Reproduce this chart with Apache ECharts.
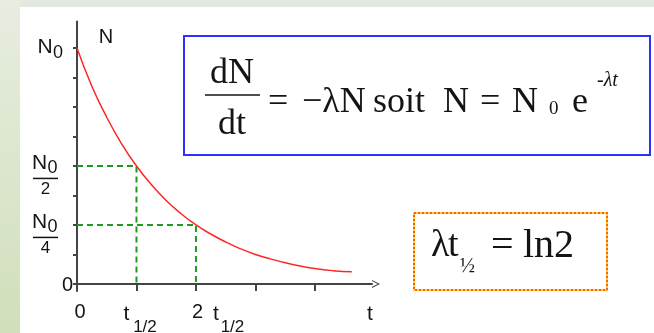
<!DOCTYPE html>
<html>
<head>
<meta charset="utf-8">
<script src="https://cdn.jsdelivr.net/npm/echarts@6/dist/echarts.min.js"></script>
<style>
html,body{margin:0;padding:0;background:#e3e9de;}
#main{width:654px;height:333px;}
</style>
</head>
<body>
<div id="main"></div>
<script>
// 衰减曲线 (横轴单位 t1/2, 纵轴单位 N0/8)
var curveT = [0, 0.25, 0.5, 0.75, 1, 1.25, 1.5, 1.75, 2, 2.25, 2.5, 2.75, 3, 3.25, 3.5, 3.75, 4, 4.3, 4.62];
var curveN = [8, 6.7, 5.65, 4.75, 4, 3.37, 2.83, 2.38, 2, 1.69, 1.42, 1.19, 1.0, 0.85, 0.72, 0.61, 0.52, 0.45, 0.41];
// 半衰期虚线 t1/2, 2t1/2
var halfT = [1, 2];
var halfN = [4, 2];
// 刻度
var xTicks = [0, 1, 2, 3, 4];
var yTicks = [0, 1, 2, 3, 4, 5, 6, 7, 8];
var xMax = 4.96;
var yMax = 8.9;
var yMin = -0.24;

var sans = '"Liberation Sans", Arial, sans-serif';
var serif = '"Liberation Serif", "Times New Roman", serif';
var axisColor = '#444';

var curveData = [];
for (var i = 0; i < curveT.length; i++) {
	curveData.push([curveT[i], curveN[i]]);
}

var series = [{
	type: 'line',
	data: curveData,
	smooth: true,
	symbol: 'none',
	lineStyle: { color: '#ff2626', width: 1.5 },
	z: 3
}];
for (var k = 0; k < halfT.length; k++) {
	series.push({
		type: 'line',
		data: [[0, halfN[k]], [halfT[k], halfN[k]], [halfT[k], 0]],
		symbol: 'none',
		lineStyle: { color: '#1f9a1f', width: 2, type: [6, 4] },
		z: 2
	});
}

var option = {
	backgroundColor: '#e3e9de',
	animation: false,
	grid: { left: 77, right: 654 - 372, top: 21.4, bottom: 42 },
	xAxis: {
		type: 'value',
		min: 0,
		max: xMax,
		axisLine: {
			onZero: true,
			lineStyle: { color: axisColor, width: 2 },
			symbol: ['none', 'path://M0,10 L5,0 L10,10 L8.6,10 L5,2.8 L1.4,10 Z'],
			symbolSize: [9, 8],
			symbolOffset: [0, 4]
		},
		axisTick: { customValues: xTicks, length: 7, lineStyle: { color: axisColor, width: 2 } },
		axisLabel: { show: false },
		splitLine: { show: false }
	},
	yAxis: {
		type: 'value',
		min: yMin,
		max: yMax,
		axisLine: { show: true, lineStyle: { color: axisColor, width: 2 } },
		axisTick: { customValues: yTicks, length: 4, lineStyle: { color: axisColor, width: 2 } },
		axisLabel: { show: false },
		splitLine: { show: false }
	},
	series: series
};

var chart = echarts.init(document.getElementById('main'));
chart.setOption(option);

function px(x, y) {
	return chart.convertToPixel({ gridIndex: 0 }, [x, y]);
}
function txt(x, y, s, size, family, align, italic) {
	return {
		type: 'text', x: x, y: y, z: 50,
		style: {
			text: s, fontSize: size, fontFamily: family, fill: '#141414',
			fontStyle: italic ? 'italic' : 'normal',
			align: align || 'center', verticalAlign: 'middle',
			textAlign: align || 'center', textVerticalAlign: 'middle'
		}
	};
}
function seg(x1, y1, x2, y2, w) {
	return { type: 'line', z: 50, shape: { x1: x1, y1: y1, x2: x2, y2: y2 }, style: { stroke: '#141414', lineWidth: w } };
}

var g = [];
// 背景
g.push({ type: 'rect', z: -10, silent: true, shape: { x: 0, y: 0, width: 20, height: 333 },
	style: { fill: new echarts.graphic.LinearGradient(0, 0, 0, 1, [{ offset: 0, color: '#e7ede0' }, { offset: 1, color: '#d1dfba' }]) } });
g.push({ type: 'rect', z: -10, silent: true, shape: { x: 20, y: 7, width: 634, height: 326 }, style: { fill: '#ffffff' } });

// 纵轴标签
var p = px(0, 8);
g.push(txt(p[0] - 32, p[1] - 1, 'N', 21, sans));
g.push(txt(p[0] - 19, p[1] + 5.5, '0', 18, sans));
var fracVal = [4, 2];
var fracDen = ['2', '4'];
for (var f = 0; f < fracVal.length; f++) {
	p = px(0, fracVal[f]);
	g.push(txt(p[0] - 37.5, p[1] - 2.5, 'N', 21, sans));
	g.push(txt(p[0] - 24.5, p[1] + 2.5, '0', 18, sans));
	g.push(seg(p[0] - 44, p[1] + 12.5, p[0] - 19, p[1] + 12.5, 1.5));
	g.push(txt(p[0] - 31.5, p[1] + 23.5, fracDen[f], 17, sans));
}
p = px(0, 0);
g.push(txt(p[0] - 9.5, p[1] + 2, '0', 20, sans));
p = px(0, yMax);
g.push(txt(p[0] + 29, p[1] + 16, 'N', 20, sans));

// 横轴标签
p = px(0, 0);
g.push(txt(p[0] + 3, p[1] + 29, '0', 20, sans));
p = px(1, 0);
g.push(txt(p[0] - 10, p[1] + 30, 't', 21, sans));
g.push(txt(p[0] + 8.5, p[1] + 43, '1/2', 17, sans));
p = px(2, 0);
g.push(txt(p[0] + 1.5, p[1] + 29, '2', 20, sans));
g.push(txt(p[0] + 20, p[1] + 30, 't', 21, sans));
g.push(txt(p[0] + 36.5, p[1] + 43, '1/2', 17, sans));
p = px(xMax, 0);
g.push(txt(p[0] - 2, p[1] + 30, 't', 21, sans));

// 公式框 dN/dt = -λN soit N = N0 e^-λt
g.push({ type: 'rect', z: 40, shape: { x: 184, y: 36, width: 466, height: 119 }, style: { fill: '#fff', stroke: '#2f2fff', lineWidth: 2 } });
g.push(txt(232, 74, 'dN', 36, serif));
g.push(seg(205, 95, 260, 95, 1.5));
g.push(txt(232, 125, 'dt', 36, serif));
g.push(txt(268, 102.5, '=', 36, serif, 'left'));
g.push(txt(302, 102.5, '\u2212\u03bbN', 36, serif, 'left'));
g.push(txt(373, 102.5, 'soit', 36, serif, 'left'));
g.push(txt(443, 102.5, 'N', 36, serif, 'left'));
g.push(txt(480, 102.5, '=', 36, serif, 'left'));
g.push(txt(512, 102.5, 'N', 36, serif, 'left'));
g.push(txt(549, 109, '0', 19, serif, 'left'));
g.push(txt(572, 102.5, 'e', 36, serif, 'left'));
g.push(txt(597, 81, '-\u03bbt', 20, serif, 'left', true));

// λ t1/2 = ln2
g.push({ type: 'rect', z: 40, shape: { x: 414, y: 213, width: 193, height: 77 }, style: { fill: '#fff', stroke: '#ffd41f', lineWidth: 2 } });
g.push({ type: 'rect', z: 41, shape: { x: 414, y: 213, width: 193, height: 77 }, style: { fill: null, stroke: '#ff5a1f', lineWidth: 2, lineDash: [2, 2] } });
g.push(txt(431, 246, '\u03bb', 38, serif, 'left'));
g.push(txt(448, 246, 't', 38, serif, 'left'));
g.push(txt(460, 267, '\u00bd', 20, serif, 'left'));
g.push(txt(491, 246, '=', 40, serif, 'left'));
g.push(txt(523, 246, 'ln2', 40, serif, 'left'));

chart.setOption({ graphic: g });
</script>
</body>
</html>
